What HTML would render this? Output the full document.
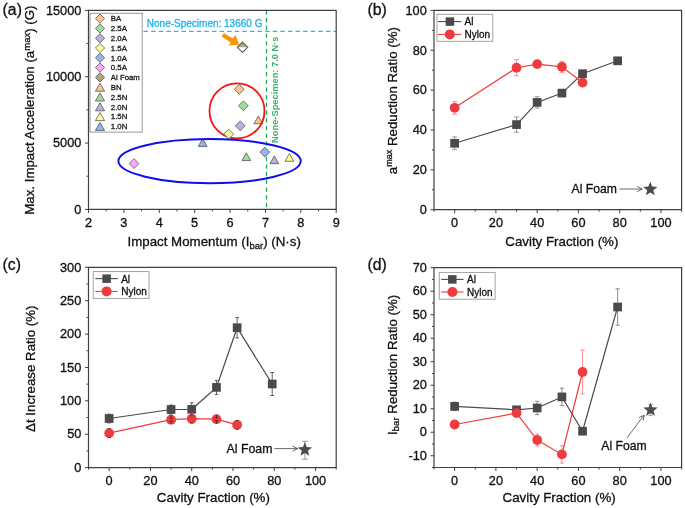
<!DOCTYPE html>
<html><head><meta charset="utf-8"><style>
html,body{margin:0;padding:0;background:#fff;}
svg{will-change:transform;display:block;font-family:"Liberation Sans",sans-serif;fill:#111;}
text{stroke:#111;stroke-width:0.3px;}

</style></head><body>
<svg width="685" height="508" viewBox="0 0 685 508">
<line x1="143.5" y1="31.4" x2="336.2" y2="31.4" stroke="#2ab7ec" stroke-width="1.3" stroke-dasharray="4.5 3.1"/>
<line x1="266.5" y1="10.4" x2="266.5" y2="209.4" stroke="#1fae4f" stroke-width="1.3" stroke-dasharray="4.3 3.4"/>
<rect x="90" y="13.3" width="52.2" height="118.8" fill="#fff" stroke="#8c8c8c" stroke-width="0.9"/>
<path d="M100 14L104.6 18.6L100 23.2L95.4 18.6Z" fill="#fdc48e" stroke="#555" stroke-width="0.8"/>
<text x="110.8" y="21.3" font-size="7.8" text-anchor="start" fill="#1a1a1a" style="stroke:#1a1a1a;stroke-width:0.3px" >BA</text>
<path d="M100 23.8L104.6 28.4L100 33L95.4 28.4Z" fill="#9fdc9d" stroke="#555" stroke-width="0.8"/>
<text x="110.8" y="31.1" font-size="7.8" text-anchor="start" fill="#1a1a1a" style="stroke:#1a1a1a;stroke-width:0.3px" >2.5A</text>
<path d="M100 33.6L104.6 38.2L100 42.8L95.4 38.2Z" fill="#bcb0dc" stroke="#555" stroke-width="0.8"/>
<text x="110.8" y="40.9" font-size="7.8" text-anchor="start" fill="#1a1a1a" style="stroke:#1a1a1a;stroke-width:0.3px" >2.0A</text>
<path d="M100 43.4L104.6 48L100 52.6L95.4 48Z" fill="#fdfd99" stroke="#555" stroke-width="0.8"/>
<text x="110.8" y="50.7" font-size="7.8" text-anchor="start" fill="#1a1a1a" style="stroke:#1a1a1a;stroke-width:0.3px" >1.5A</text>
<path d="M100 53.2L104.6 57.8L100 62.4L95.4 57.8Z" fill="#94b4f0" stroke="#555" stroke-width="0.8"/>
<text x="110.8" y="60.5" font-size="7.8" text-anchor="start" fill="#1a1a1a" style="stroke:#1a1a1a;stroke-width:0.3px" >1.0A</text>
<path d="M100 63L104.6 67.6L100 72.2L95.4 67.6Z" fill="#fca8f6" stroke="#555" stroke-width="0.8"/>
<text x="110.8" y="70.3" font-size="7.8" text-anchor="start" fill="#1a1a1a" style="stroke:#1a1a1a;stroke-width:0.3px" >0.5A</text>
<path d="M100 72.8L104.6 77.4L100 82L95.4 77.4Z" fill="#a8aa85" stroke="#555" stroke-width="0.8"/>
<text x="110.8" y="80.1" font-size="7.8" text-anchor="start" fill="#1a1a1a" style="stroke:#1a1a1a;stroke-width:0.3px" >Al Foam</text>
<path d="M100 83.18L104.6 91.23L95.4 91.23Z" fill="#fdc48e" stroke="#555" stroke-width="0.8"/>
<text x="110.8" y="89.9" font-size="7.8" text-anchor="start" fill="#1a1a1a" style="stroke:#1a1a1a;stroke-width:0.3px" >BN</text>
<path d="M100 92.97L104.6 101.03L95.4 101.03Z" fill="#9fdc9d" stroke="#555" stroke-width="0.8"/>
<text x="110.8" y="99.7" font-size="7.8" text-anchor="start" fill="#1a1a1a" style="stroke:#1a1a1a;stroke-width:0.3px" >2.5N</text>
<path d="M100 102.78L104.6 110.83L95.4 110.83Z" fill="#bcb0dc" stroke="#555" stroke-width="0.8"/>
<text x="110.8" y="109.5" font-size="7.8" text-anchor="start" fill="#1a1a1a" style="stroke:#1a1a1a;stroke-width:0.3px" >2.0N</text>
<path d="M100 112.57L104.6 120.62L95.4 120.62Z" fill="#fdfd99" stroke="#555" stroke-width="0.8"/>
<text x="110.8" y="119.3" font-size="7.8" text-anchor="start" fill="#1a1a1a" style="stroke:#1a1a1a;stroke-width:0.3px" >1.5N</text>
<path d="M100 122.38L104.6 130.43L95.4 130.43Z" fill="#94b4f0" stroke="#555" stroke-width="0.8"/>
<text x="110.8" y="129.1" font-size="7.8" text-anchor="start" fill="#1a1a1a" style="stroke:#1a1a1a;stroke-width:0.3px" >1.0N</text>
<path d="M258.3 116.05L262.7 123.75L253.9 123.75Z" fill="#fdc48e" stroke="#555" stroke-width="0.8"/>
<path d="M246.3 152.85L250.7 160.55L241.9 160.55Z" fill="#9fdc9d" stroke="#555" stroke-width="0.8"/>
<path d="M274.3 155.95L278.7 163.65L269.9 163.65Z" fill="#bcb0dc" stroke="#555" stroke-width="0.8"/>
<path d="M289.4 153.55L293.8 161.25L285 161.25Z" fill="#fdfd99" stroke="#555" stroke-width="0.8"/>
<path d="M202.6 138.75L207 146.45L198.2 146.45Z" fill="#94b4f0" stroke="#555" stroke-width="0.8"/>
<circle cx="237" cy="110.9" r="27.5" fill="none" stroke="#f51414" stroke-width="1.8"/>
<path d="M239.2 84.4L244.1 89.3L239.2 94.2L234.3 89.3Z" fill="#fdc48e" stroke="#555" stroke-width="0.8"/>
<path d="M243.4 100.9L248.3 105.8L243.4 110.7L238.5 105.8Z" fill="#9fdc9d" stroke="#555" stroke-width="0.8"/>
<path d="M240.2 120.9L245.1 125.8L240.2 130.7L235.3 125.8Z" fill="#bcb0dc" stroke="#555" stroke-width="0.8"/>
<path d="M228.7 129.2L233.6 134.1L228.7 139L223.8 134.1Z" fill="#fdfd99" stroke="#555" stroke-width="0.8"/>
<path d="M264.9 147.2L269.8 152.1L264.9 157L260 152.1Z" fill="#94b4f0" stroke="#555" stroke-width="0.8"/>
<path d="M134.1 158.7L139 163.6L134.1 168.5L129.2 163.6Z" fill="#fca8f6" stroke="#555" stroke-width="0.8"/>
<ellipse cx="209.6" cy="161.1" rx="91.2" ry="22.1" fill="none" stroke="#0c0cee" stroke-width="1.9"/>
<path d="M237.3 47.3L242.5 42.099999999999994L247.7 47.3Z" fill="#a8aa85"/>
<path d="M242.5 42.1L247.7 47.3L242.5 52.5L237.3 47.3Z" fill="none" stroke="#666" stroke-width="1.2"/>
<path d="M223.7 33.1 L232.7 38.5 L235.5 35 L239.2 44.7 L228.7 45.5 L230.7 42.5 L221.7 36.4 Z" fill="#fe9302"/>
<rect x="88.5" y="10.4" width="247.7" height="199" fill="none" stroke="#404040" stroke-width="1.2" stroke-linejoin="round"/>
<line x1="85" y1="209.4" x2="88.5" y2="209.4" stroke="#404040" stroke-width="1"/>
<text transform="translate(81.3 213.65) scale(1 1.07)" text-anchor="end" font-size="12.75">0</text>
<line x1="85" y1="143.07" x2="88.5" y2="143.07" stroke="#404040" stroke-width="1"/>
<text transform="translate(81.3 147.32) scale(1 1.07)" text-anchor="end" font-size="12.75">5000</text>
<line x1="85" y1="76.73" x2="88.5" y2="76.73" stroke="#404040" stroke-width="1"/>
<text transform="translate(81.3 80.98) scale(1 1.07)" text-anchor="end" font-size="12.75">10000</text>
<line x1="85" y1="10.4" x2="88.5" y2="10.4" stroke="#404040" stroke-width="1"/>
<text transform="translate(81.3 14.65) scale(1 1.07)" text-anchor="end" font-size="12.75">15000</text>
<line x1="86.5" y1="176.23" x2="88.5" y2="176.23" stroke="#404040" stroke-width="1"/>
<line x1="86.5" y1="109.9" x2="88.5" y2="109.9" stroke="#404040" stroke-width="1"/>
<line x1="86.5" y1="43.57" x2="88.5" y2="43.57" stroke="#404040" stroke-width="1"/>
<line x1="88.5" y1="209.4" x2="88.5" y2="212.9" stroke="#404040" stroke-width="1"/>
<text transform="translate(88.5 227) scale(1 1.07)" text-anchor="middle" font-size="12.75">2</text>
<line x1="123.89" y1="209.4" x2="123.89" y2="212.9" stroke="#404040" stroke-width="1"/>
<text transform="translate(123.89 227) scale(1 1.07)" text-anchor="middle" font-size="12.75">3</text>
<line x1="159.27" y1="209.4" x2="159.27" y2="212.9" stroke="#404040" stroke-width="1"/>
<text transform="translate(159.27 227) scale(1 1.07)" text-anchor="middle" font-size="12.75">4</text>
<line x1="194.66" y1="209.4" x2="194.66" y2="212.9" stroke="#404040" stroke-width="1"/>
<text transform="translate(194.66 227) scale(1 1.07)" text-anchor="middle" font-size="12.75">5</text>
<line x1="230.04" y1="209.4" x2="230.04" y2="212.9" stroke="#404040" stroke-width="1"/>
<text transform="translate(230.04 227) scale(1 1.07)" text-anchor="middle" font-size="12.75">6</text>
<line x1="265.43" y1="209.4" x2="265.43" y2="212.9" stroke="#404040" stroke-width="1"/>
<text transform="translate(265.43 227) scale(1 1.07)" text-anchor="middle" font-size="12.75">7</text>
<line x1="300.81" y1="209.4" x2="300.81" y2="212.9" stroke="#404040" stroke-width="1"/>
<text transform="translate(300.81 227) scale(1 1.07)" text-anchor="middle" font-size="12.75">8</text>
<line x1="336.2" y1="209.4" x2="336.2" y2="212.9" stroke="#404040" stroke-width="1"/>
<text transform="translate(336.2 227) scale(1 1.07)" text-anchor="middle" font-size="12.75">9</text>
<line x1="106.19" y1="209.4" x2="106.19" y2="211.4" stroke="#404040" stroke-width="1"/>
<line x1="141.58" y1="209.4" x2="141.58" y2="211.4" stroke="#404040" stroke-width="1"/>
<line x1="176.96" y1="209.4" x2="176.96" y2="211.4" stroke="#404040" stroke-width="1"/>
<line x1="212.35" y1="209.4" x2="212.35" y2="211.4" stroke="#404040" stroke-width="1"/>
<line x1="247.74" y1="209.4" x2="247.74" y2="211.4" stroke="#404040" stroke-width="1"/>
<line x1="283.12" y1="209.4" x2="283.12" y2="211.4" stroke="#404040" stroke-width="1"/>
<line x1="318.51" y1="209.4" x2="318.51" y2="211.4" stroke="#404040" stroke-width="1"/>
<text x="146.8" y="26.8" font-size="10" text-anchor="start" fill="#1eb4ea" style="stroke:#1eb4ea" >None-Specimen: 13660 G</text>
<text transform="translate(277.8 142.9) rotate(-90)" font-size="9.3" font-weight="bold" fill="#36b566" style="stroke:#36b566;stroke-width:0px">None-Specimen: 7.0 N·s</text>
<text x="127.5" y="246.1" font-size="13.3" text-anchor="start" fill="#111" style="stroke:#111" >Impact Momentum (I<tspan font-size="9.5" dy="2.8">bar</tspan><tspan dy="-2.8">) (N·s)</tspan></text>
<text transform="translate(34 214.8) rotate(-90)" font-size="13.3">Max. Impact Acceleration (a<tspan font-size="9.5" dy="-3.6">max</tspan><tspan dy="3.6">) (G)</tspan></text>
<text x="2.6" y="14.75" font-size="15.8" text-anchor="start" fill="#111" style="stroke:#111" >(a)</text>
<rect x="437" y="14.3" width="55.8" height="27" fill="#fff" stroke="#999" stroke-width="0.9"/>
<line x1="438" y1="21.6" x2="461.4" y2="21.6" stroke="#4a4a4a" stroke-width="1.1"/>
<rect x="445.65" y="17.35" width="8.5" height="8.5" fill="#4a4a4a"/>
<line x1="438" y1="34.4" x2="461.4" y2="34.4" stroke="#ee3b3f" stroke-width="1.1"/>
<circle cx="449.8" cy="34.4" r="5" fill="#ee3b3f"/>
<text x="464.6" y="24.9" font-size="10" text-anchor="start" fill="#111" style="stroke:#111" >Al</text>
<text x="464.6" y="38" font-size="10" text-anchor="start" fill="#111" style="stroke:#111" >Nylon</text>
<path d="M454.63 136.9V149.7M452.13 136.9H457.13M452.13 149.7H457.13" stroke="#808080" stroke-width="0.8" fill="none"/>
<path d="M516.53 117V132.2M514.03 117H519.03M514.03 132.2H519.03" stroke="#808080" stroke-width="0.8" fill="none"/>
<path d="M537.17 96.7V108.1M534.67 96.7H539.67M534.67 108.1H539.67" stroke="#808080" stroke-width="0.8" fill="none"/>
<path d="M561.93 90.1V96.1M559.43 90.1H564.43M559.43 96.1H564.43" stroke="#808080" stroke-width="0.8" fill="none"/>
<path d="M582.56 70.7V76.7M580.06 70.7H585.06M580.06 76.7H585.06" stroke="#808080" stroke-width="0.8" fill="none"/>
<path d="M617.64 58.4V63.2M615.14 58.4H620.14M615.14 63.2H620.14" stroke="#808080" stroke-width="0.8" fill="none"/>
<polyline points="454.63,143.3 516.53,124.6 537.17,102.4 561.93,93.1 582.56,73.7 617.64,60.8" fill="none" stroke="#4a4a4a" stroke-width="1.2"/>
<rect x="450.28" y="138.95" width="8.7" height="8.7" fill="#4a4a4a"/>
<rect x="512.18" y="120.25" width="8.7" height="8.7" fill="#4a4a4a"/>
<rect x="532.82" y="98.05" width="8.7" height="8.7" fill="#4a4a4a"/>
<rect x="557.58" y="88.75" width="8.7" height="8.7" fill="#4a4a4a"/>
<rect x="578.21" y="69.35" width="8.7" height="8.7" fill="#4a4a4a"/>
<rect x="613.29" y="56.45" width="8.7" height="8.7" fill="#4a4a4a"/>
<path d="M454.63 101.4V114.2M452.13 101.4H457.13M452.13 114.2H457.13" stroke="#f07a7c" stroke-width="0.8" fill="none"/>
<path d="M516.53 59.7V75.7M514.03 59.7H519.03M514.03 75.7H519.03" stroke="#f07a7c" stroke-width="0.8" fill="none"/>
<path d="M537.17 60.9V67.3M534.67 60.9H539.67M534.67 67.3H539.67" stroke="#f07a7c" stroke-width="0.8" fill="none"/>
<path d="M561.93 61.3V72.3M559.43 61.3H564.43M559.43 72.3H564.43" stroke="#f07a7c" stroke-width="0.8" fill="none"/>
<path d="M582.56 79.6V85.6M580.06 79.6H585.06M580.06 85.6H585.06" stroke="#f07a7c" stroke-width="0.8" fill="none"/>
<polyline points="454.63,107.8 516.53,67.7 537.17,64.1 561.93,66.8 582.56,82.6" fill="none" stroke="#ee3b3f" stroke-width="1.2"/>
<circle cx="454.63" cy="107.8" r="4.9" fill="#ee3b3f"/>
<circle cx="516.53" cy="67.7" r="4.9" fill="#ee3b3f"/>
<circle cx="537.17" cy="64.1" r="4.9" fill="#ee3b3f"/>
<circle cx="561.93" cy="66.8" r="4.9" fill="#ee3b3f"/>
<circle cx="582.56" cy="82.6" r="4.9" fill="#ee3b3f"/>
<polygon points="650.3,181.7 652.2,186.59 657.43,186.88 653.37,190.2 654.71,195.27 650.3,192.42 645.89,195.27 647.23,190.2 643.17,186.88 648.4,186.59" fill="#4d4d4d"/>
<line x1="619.4" y1="189" x2="642.2" y2="189" stroke="#444" stroke-width="0.8"/>
<polyline points="637.2,191.6 642.2,189 637.2,186.4" fill="none" stroke="#444" stroke-width="0.8"/>
<text x="571.6" y="192.8" font-size="12.2" text-anchor="start" fill="#111" style="stroke:#111" >Al Foam</text>
<rect x="434" y="10.4" width="247.6" height="199.3" fill="none" stroke="#404040" stroke-width="1.2" stroke-linejoin="round"/>
<line x1="430.5" y1="209.7" x2="434" y2="209.7" stroke="#404040" stroke-width="1"/>
<text transform="translate(426.8 213.95) scale(1 1.07)" text-anchor="end" font-size="12.75">0</text>
<line x1="430.5" y1="169.84" x2="434" y2="169.84" stroke="#404040" stroke-width="1"/>
<text transform="translate(426.8 174.09) scale(1 1.07)" text-anchor="end" font-size="12.75">20</text>
<line x1="430.5" y1="129.98" x2="434" y2="129.98" stroke="#404040" stroke-width="1"/>
<text transform="translate(426.8 134.23) scale(1 1.07)" text-anchor="end" font-size="12.75">40</text>
<line x1="430.5" y1="90.12" x2="434" y2="90.12" stroke="#404040" stroke-width="1"/>
<text transform="translate(426.8 94.37) scale(1 1.07)" text-anchor="end" font-size="12.75">60</text>
<line x1="430.5" y1="50.26" x2="434" y2="50.26" stroke="#404040" stroke-width="1"/>
<text transform="translate(426.8 54.51) scale(1 1.07)" text-anchor="end" font-size="12.75">80</text>
<line x1="430.5" y1="10.4" x2="434" y2="10.4" stroke="#404040" stroke-width="1"/>
<text transform="translate(426.8 14.65) scale(1 1.07)" text-anchor="end" font-size="12.75">100</text>
<line x1="432" y1="189.77" x2="434" y2="189.77" stroke="#404040" stroke-width="1"/>
<line x1="432" y1="149.91" x2="434" y2="149.91" stroke="#404040" stroke-width="1"/>
<line x1="432" y1="110.05" x2="434" y2="110.05" stroke="#404040" stroke-width="1"/>
<line x1="432" y1="70.19" x2="434" y2="70.19" stroke="#404040" stroke-width="1"/>
<line x1="432" y1="30.33" x2="434" y2="30.33" stroke="#404040" stroke-width="1"/>
<line x1="454.63" y1="209.7" x2="454.63" y2="213.2" stroke="#404040" stroke-width="1"/>
<text transform="translate(454.63 227) scale(1 1.07)" text-anchor="middle" font-size="12.75">0</text>
<line x1="495.9" y1="209.7" x2="495.9" y2="213.2" stroke="#404040" stroke-width="1"/>
<text transform="translate(495.9 227) scale(1 1.07)" text-anchor="middle" font-size="12.75">20</text>
<line x1="537.17" y1="209.7" x2="537.17" y2="213.2" stroke="#404040" stroke-width="1"/>
<text transform="translate(537.17 227) scale(1 1.07)" text-anchor="middle" font-size="12.75">40</text>
<line x1="578.43" y1="209.7" x2="578.43" y2="213.2" stroke="#404040" stroke-width="1"/>
<text transform="translate(578.43 227) scale(1 1.07)" text-anchor="middle" font-size="12.75">60</text>
<line x1="619.7" y1="209.7" x2="619.7" y2="213.2" stroke="#404040" stroke-width="1"/>
<text transform="translate(619.7 227) scale(1 1.07)" text-anchor="middle" font-size="12.75">80</text>
<line x1="660.97" y1="209.7" x2="660.97" y2="213.2" stroke="#404040" stroke-width="1"/>
<text transform="translate(660.97 227) scale(1 1.07)" text-anchor="middle" font-size="12.75">100</text>
<line x1="434" y1="209.7" x2="434" y2="211.7" stroke="#404040" stroke-width="1"/>
<line x1="475.27" y1="209.7" x2="475.27" y2="211.7" stroke="#404040" stroke-width="1"/>
<line x1="516.53" y1="209.7" x2="516.53" y2="211.7" stroke="#404040" stroke-width="1"/>
<line x1="557.8" y1="209.7" x2="557.8" y2="211.7" stroke="#404040" stroke-width="1"/>
<line x1="599.07" y1="209.7" x2="599.07" y2="211.7" stroke="#404040" stroke-width="1"/>
<line x1="640.33" y1="209.7" x2="640.33" y2="211.7" stroke="#404040" stroke-width="1"/>
<line x1="681.6" y1="209.7" x2="681.6" y2="211.7" stroke="#404040" stroke-width="1"/>
<text x="505.3" y="246.1" font-size="13.3" text-anchor="start" fill="#111" style="stroke:#111" >Cavity Fraction (%)</text>
<text transform="translate(396.9 174.2) rotate(-90)" font-size="13.3">a<tspan font-size="9" dy="-4.5">max</tspan><tspan dy="4.5"> Reduction Ratio (%)</tspan></text>
<text x="367.4" y="14.75" font-size="15.8" text-anchor="start" fill="#111" style="stroke:#111" >(b)</text>
<rect x="93.2" y="271.6" width="55.8" height="26.8" fill="#fff" stroke="#999" stroke-width="0.9"/>
<line x1="95.3" y1="278.6" x2="117.7" y2="278.6" stroke="#4a4a4a" stroke-width="1.1"/>
<rect x="102.35" y="274.45" width="8.5" height="8.5" fill="#4a4a4a"/>
<line x1="95.3" y1="291.4" x2="117.7" y2="291.4" stroke="#ee3b3f" stroke-width="1.1"/>
<circle cx="106.6" cy="291.4" r="5" fill="#ee3b3f"/>
<text x="121.2" y="282.9" font-size="10" text-anchor="start" fill="#111" style="stroke:#111" >Al</text>
<text x="121.2" y="295.2" font-size="10" text-anchor="start" fill="#111" style="stroke:#111" >Nylon</text>
<polyline points="109.14,418.5 171.07,409.5 191.71,409.3 216.48,387.4 237.12,327.7 272.21,384" fill="none" stroke="#4a4a4a" stroke-width="1.2"/>
<polyline points="109.14,433.1 171.07,419.7 191.71,418.7 216.48,419.2 237.12,424.8" fill="none" stroke="#ee3b3f" stroke-width="1.2"/>
<circle cx="109.14" cy="433.1" r="4.9" fill="#ee3b3f"/>
<circle cx="171.07" cy="419.7" r="4.9" fill="#ee3b3f"/>
<circle cx="191.71" cy="418.7" r="4.9" fill="#ee3b3f"/>
<circle cx="216.48" cy="419.2" r="4.9" fill="#ee3b3f"/>
<circle cx="237.12" cy="424.8" r="4.9" fill="#ee3b3f"/>
<path d="M109.14 414.1V422.9M107.34 414.1H110.94M107.34 422.9H110.94" stroke="#505050" stroke-width="0.9" fill="none"/>
<path d="M171.07 405V414M169.27 405H172.87M169.27 414H172.87" stroke="#505050" stroke-width="0.9" fill="none"/>
<path d="M191.71 402.8V415.8M189.91 402.8H193.51M189.91 415.8H193.51" stroke="#505050" stroke-width="0.9" fill="none"/>
<path d="M216.48 380.4V394.4M214.68 380.4H218.28M214.68 394.4H218.28" stroke="#505050" stroke-width="0.9" fill="none"/>
<path d="M237.12 317.5V337.9M235.32 317.5H238.92M235.32 337.9H238.92" stroke="#505050" stroke-width="0.9" fill="none"/>
<path d="M272.21 372.5V395.5M270.41 372.5H274.01M270.41 395.5H274.01" stroke="#505050" stroke-width="0.9" fill="none"/>
<rect x="104.79" y="414.15" width="8.7" height="8.7" fill="#4a4a4a"/>
<rect x="166.72" y="405.15" width="8.7" height="8.7" fill="#4a4a4a"/>
<rect x="187.36" y="404.95" width="8.7" height="8.7" fill="#4a4a4a"/>
<rect x="212.13" y="383.05" width="8.7" height="8.7" fill="#4a4a4a"/>
<rect x="232.77" y="323.35" width="8.7" height="8.7" fill="#4a4a4a"/>
<rect x="267.86" y="379.65" width="8.7" height="8.7" fill="#4a4a4a"/>
<path d="M171.07 415.1V418.3M169.47 418.3H172.67M171.07 424.3V421.1M169.47 421.1H172.67" stroke="#3a2020" stroke-width="0.8" fill="none"/>
<path d="M216.48 414.6V417.8M214.88 417.8H218.08M216.48 423.8V420.6M214.88 420.6H218.08" stroke="#3a2020" stroke-width="0.8" fill="none"/>
<path d="M107.34 428.7H110.94M107.34 437.5H110.94" stroke="#5a2a2a" stroke-width="0.8" fill="none"/>
<path d="M235.32 420.4H238.92M235.32 429.2H238.92" stroke="#5a2a2a" stroke-width="0.8" fill="none"/>
<path d="M189.91 423.2H193.51" stroke="#5a2a2a" stroke-width="0.8" fill="none"/>
<path d="M304.9 441.3V459.2M301.9 441.3H307.9M301.9 459.2H307.9" stroke="#808080" stroke-width="0.8" fill="none"/>
<polygon points="304.9,442.2 306.8,447.09 312.03,447.38 307.97,450.7 309.31,455.77 304.9,452.93 300.49,455.77 301.83,450.7 297.77,447.38 303,447.09" fill="#4d4d4d"/>
<line x1="274.4" y1="448.6" x2="297.6" y2="448.6" stroke="#444" stroke-width="0.8"/>
<polyline points="292.6,451.2 297.6,448.6 292.6,446" fill="none" stroke="#444" stroke-width="0.8"/>
<text x="226.6" y="453.2" font-size="12.3" text-anchor="start" fill="#111" style="stroke:#111" >Al Foam</text>
<rect x="88.5" y="267.3" width="247.7" height="200.3" fill="none" stroke="#404040" stroke-width="1.2" stroke-linejoin="round"/>
<line x1="85" y1="467.6" x2="88.5" y2="467.6" stroke="#404040" stroke-width="1"/>
<text transform="translate(81.3 471.85) scale(1 1.07)" text-anchor="end" font-size="12.75">0</text>
<line x1="85" y1="434.22" x2="88.5" y2="434.22" stroke="#404040" stroke-width="1"/>
<text transform="translate(81.3 438.47) scale(1 1.07)" text-anchor="end" font-size="12.75">50</text>
<line x1="85" y1="400.83" x2="88.5" y2="400.83" stroke="#404040" stroke-width="1"/>
<text transform="translate(81.3 405.08) scale(1 1.07)" text-anchor="end" font-size="12.75">100</text>
<line x1="85" y1="367.45" x2="88.5" y2="367.45" stroke="#404040" stroke-width="1"/>
<text transform="translate(81.3 371.7) scale(1 1.07)" text-anchor="end" font-size="12.75">150</text>
<line x1="85" y1="334.07" x2="88.5" y2="334.07" stroke="#404040" stroke-width="1"/>
<text transform="translate(81.3 338.32) scale(1 1.07)" text-anchor="end" font-size="12.75">200</text>
<line x1="85" y1="300.68" x2="88.5" y2="300.68" stroke="#404040" stroke-width="1"/>
<text transform="translate(81.3 304.93) scale(1 1.07)" text-anchor="end" font-size="12.75">250</text>
<line x1="85" y1="267.3" x2="88.5" y2="267.3" stroke="#404040" stroke-width="1"/>
<text transform="translate(81.3 271.55) scale(1 1.07)" text-anchor="end" font-size="12.75">300</text>
<line x1="86.5" y1="450.91" x2="88.5" y2="450.91" stroke="#404040" stroke-width="1"/>
<line x1="86.5" y1="417.53" x2="88.5" y2="417.53" stroke="#404040" stroke-width="1"/>
<line x1="86.5" y1="384.14" x2="88.5" y2="384.14" stroke="#404040" stroke-width="1"/>
<line x1="86.5" y1="350.76" x2="88.5" y2="350.76" stroke="#404040" stroke-width="1"/>
<line x1="86.5" y1="317.38" x2="88.5" y2="317.38" stroke="#404040" stroke-width="1"/>
<line x1="86.5" y1="283.99" x2="88.5" y2="283.99" stroke="#404040" stroke-width="1"/>
<line x1="109.14" y1="467.6" x2="109.14" y2="471.1" stroke="#404040" stroke-width="1"/>
<text transform="translate(109.14 484.5) scale(1 1.07)" text-anchor="middle" font-size="12.75">0</text>
<line x1="150.43" y1="467.6" x2="150.43" y2="471.1" stroke="#404040" stroke-width="1"/>
<text transform="translate(150.43 484.5) scale(1 1.07)" text-anchor="middle" font-size="12.75">20</text>
<line x1="191.71" y1="467.6" x2="191.71" y2="471.1" stroke="#404040" stroke-width="1"/>
<text transform="translate(191.71 484.5) scale(1 1.07)" text-anchor="middle" font-size="12.75">40</text>
<line x1="232.99" y1="467.6" x2="232.99" y2="471.1" stroke="#404040" stroke-width="1"/>
<text transform="translate(232.99 484.5) scale(1 1.07)" text-anchor="middle" font-size="12.75">60</text>
<line x1="274.27" y1="467.6" x2="274.27" y2="471.1" stroke="#404040" stroke-width="1"/>
<text transform="translate(274.27 484.5) scale(1 1.07)" text-anchor="middle" font-size="12.75">80</text>
<line x1="315.56" y1="467.6" x2="315.56" y2="471.1" stroke="#404040" stroke-width="1"/>
<text transform="translate(315.56 484.5) scale(1 1.07)" text-anchor="middle" font-size="12.75">100</text>
<line x1="88.5" y1="467.6" x2="88.5" y2="469.6" stroke="#404040" stroke-width="1"/>
<line x1="129.78" y1="467.6" x2="129.78" y2="469.6" stroke="#404040" stroke-width="1"/>
<line x1="171.07" y1="467.6" x2="171.07" y2="469.6" stroke="#404040" stroke-width="1"/>
<line x1="212.35" y1="467.6" x2="212.35" y2="469.6" stroke="#404040" stroke-width="1"/>
<line x1="253.63" y1="467.6" x2="253.63" y2="469.6" stroke="#404040" stroke-width="1"/>
<line x1="294.92" y1="467.6" x2="294.92" y2="469.6" stroke="#404040" stroke-width="1"/>
<line x1="336.2" y1="467.6" x2="336.2" y2="469.6" stroke="#404040" stroke-width="1"/>
<text x="156.8" y="501.6" font-size="13.3" text-anchor="start" fill="#111" style="stroke:#111" >Cavity Fraction (%)</text>
<text transform="translate(35.1 431.9) rotate(-90)" font-size="13.3">Δt Increase Ratio (%)</text>
<text x="2.6" y="269.8" font-size="15.8" text-anchor="start" fill="#111" style="stroke:#111" >(c)</text>
<rect x="439.3" y="272.4" width="55.8" height="26.8" fill="#fff" stroke="#999" stroke-width="0.9"/>
<line x1="441.2" y1="279.4" x2="463.6" y2="279.4" stroke="#4a4a4a" stroke-width="1.1"/>
<rect x="448.05" y="275.15" width="8.5" height="8.5" fill="#4a4a4a"/>
<line x1="441.2" y1="292" x2="463.6" y2="292" stroke="#ee3b3f" stroke-width="1.1"/>
<circle cx="452.4" cy="292" r="5" fill="#ee3b3f"/>
<text x="467" y="283" font-size="10" text-anchor="start" fill="#111" style="stroke:#111" >Al</text>
<text x="467" y="295.6" font-size="10" text-anchor="start" fill="#111" style="stroke:#111" >Nylon</text>
<path d="M454.63 402.2V410.6M452.53 402.2H456.73M452.53 410.6H456.73" stroke="#707070" stroke-width="0.8" fill="none"/>
<path d="M516.53 407.8V411.8M514.43 407.8H518.63M514.43 411.8H518.63" stroke="#707070" stroke-width="0.8" fill="none"/>
<path d="M537.17 401.3V414.7M535.07 401.3H539.27M535.07 414.7H539.27" stroke="#707070" stroke-width="0.8" fill="none"/>
<path d="M561.93 388.2V405.6M559.83 388.2H564.03M559.83 405.6H564.03" stroke="#707070" stroke-width="0.8" fill="none"/>
<path d="M582.56 429.2V433.2M580.46 429.2H584.66M580.46 433.2H584.66" stroke="#707070" stroke-width="0.8" fill="none"/>
<path d="M617.64 288.8V325.2M615.54 288.8H619.74M615.54 325.2H619.74" stroke="#707070" stroke-width="0.8" fill="none"/>
<polyline points="454.63,406.4 516.53,409.8 537.17,408 561.93,396.9 582.56,431.2 617.64,307" fill="none" stroke="#4a4a4a" stroke-width="1.2"/>
<rect x="450.28" y="402.05" width="8.7" height="8.7" fill="#4a4a4a"/>
<rect x="512.18" y="405.45" width="8.7" height="8.7" fill="#4a4a4a"/>
<rect x="532.82" y="403.65" width="8.7" height="8.7" fill="#4a4a4a"/>
<rect x="557.58" y="392.55" width="8.7" height="8.7" fill="#4a4a4a"/>
<rect x="578.21" y="426.85" width="8.7" height="8.7" fill="#4a4a4a"/>
<rect x="613.29" y="302.65" width="8.7" height="8.7" fill="#4a4a4a"/>
<path d="M454.63 422.5V426.5M452.53 422.5H456.73M452.53 426.5H456.73" stroke="#f07a7c" stroke-width="0.8" fill="none"/>
<path d="M516.53 411.1V415.1M514.43 411.1H518.63M514.43 415.1H518.63" stroke="#f07a7c" stroke-width="0.8" fill="none"/>
<path d="M537.17 433.9V446.1M535.07 433.9H539.27M535.07 446.1H539.27" stroke="#f07a7c" stroke-width="0.8" fill="none"/>
<path d="M561.93 445.7V463.1M559.83 445.7H564.03M559.83 463.1H564.03" stroke="#f07a7c" stroke-width="0.8" fill="none"/>
<path d="M582.56 350V394M580.46 350H584.66M580.46 394H584.66" stroke="#f07a7c" stroke-width="0.8" fill="none"/>
<polyline points="454.63,424.5 516.53,413.1 537.17,440 561.93,454.4 582.56,372" fill="none" stroke="#ee3b3f" stroke-width="1.2"/>
<circle cx="454.63" cy="424.5" r="4.9" fill="#ee3b3f"/>
<circle cx="516.53" cy="413.1" r="4.9" fill="#ee3b3f"/>
<circle cx="537.17" cy="440" r="4.9" fill="#ee3b3f"/>
<circle cx="561.93" cy="454.4" r="4.9" fill="#ee3b3f"/>
<circle cx="582.56" cy="372" r="4.9" fill="#ee3b3f"/>
<path d="M650.5 404.5V415.6M648.5 404.5H652.5M648.5 415.6H652.5" stroke="#888" stroke-width="0.8" fill="none"/>
<polygon points="650.5,402.4 652.4,407.29 657.63,407.58 653.57,410.9 654.91,415.97 650.5,413.12 646.09,415.97 647.43,410.9 643.37,407.58 648.6,407.29" fill="#4d4d4d"/>
<line x1="626.9" y1="437.9" x2="644.1" y2="415.2" stroke="#444" stroke-width="0.8"/>
<polyline points="643.15,420.76 644.1,415.2 639.01,417.61" fill="none" stroke="#444" stroke-width="0.8"/>
<text x="601.3" y="450.3" font-size="12.2" text-anchor="start" fill="#111" style="stroke:#111" >Al Foam</text>
<rect x="434" y="267.7" width="247.6" height="199.8" fill="none" stroke="#404040" stroke-width="1.2" stroke-linejoin="round"/>
<line x1="430.5" y1="455.75" x2="434" y2="455.75" stroke="#404040" stroke-width="1"/>
<text transform="translate(426.8 460) scale(1 1.07)" text-anchor="end" font-size="12.75">-10</text>
<line x1="430.5" y1="432.24" x2="434" y2="432.24" stroke="#404040" stroke-width="1"/>
<text transform="translate(426.8 436.49) scale(1 1.07)" text-anchor="end" font-size="12.75">0</text>
<line x1="430.5" y1="408.74" x2="434" y2="408.74" stroke="#404040" stroke-width="1"/>
<text transform="translate(426.8 412.99) scale(1 1.07)" text-anchor="end" font-size="12.75">10</text>
<line x1="430.5" y1="385.23" x2="434" y2="385.23" stroke="#404040" stroke-width="1"/>
<text transform="translate(426.8 389.48) scale(1 1.07)" text-anchor="end" font-size="12.75">20</text>
<line x1="430.5" y1="361.72" x2="434" y2="361.72" stroke="#404040" stroke-width="1"/>
<text transform="translate(426.8 365.97) scale(1 1.07)" text-anchor="end" font-size="12.75">30</text>
<line x1="430.5" y1="338.22" x2="434" y2="338.22" stroke="#404040" stroke-width="1"/>
<text transform="translate(426.8 342.47) scale(1 1.07)" text-anchor="end" font-size="12.75">40</text>
<line x1="430.5" y1="314.71" x2="434" y2="314.71" stroke="#404040" stroke-width="1"/>
<text transform="translate(426.8 318.96) scale(1 1.07)" text-anchor="end" font-size="12.75">50</text>
<line x1="430.5" y1="291.21" x2="434" y2="291.21" stroke="#404040" stroke-width="1"/>
<text transform="translate(426.8 295.46) scale(1 1.07)" text-anchor="end" font-size="12.75">60</text>
<line x1="430.5" y1="267.7" x2="434" y2="267.7" stroke="#404040" stroke-width="1"/>
<text transform="translate(426.8 271.95) scale(1 1.07)" text-anchor="end" font-size="12.75">70</text>
<line x1="432" y1="467.5" x2="434" y2="467.5" stroke="#404040" stroke-width="1"/>
<line x1="432" y1="443.99" x2="434" y2="443.99" stroke="#404040" stroke-width="1"/>
<line x1="432" y1="420.49" x2="434" y2="420.49" stroke="#404040" stroke-width="1"/>
<line x1="432" y1="396.98" x2="434" y2="396.98" stroke="#404040" stroke-width="1"/>
<line x1="432" y1="373.48" x2="434" y2="373.48" stroke="#404040" stroke-width="1"/>
<line x1="432" y1="349.97" x2="434" y2="349.97" stroke="#404040" stroke-width="1"/>
<line x1="432" y1="326.46" x2="434" y2="326.46" stroke="#404040" stroke-width="1"/>
<line x1="432" y1="302.96" x2="434" y2="302.96" stroke="#404040" stroke-width="1"/>
<line x1="432" y1="279.45" x2="434" y2="279.45" stroke="#404040" stroke-width="1"/>
<line x1="454.63" y1="467.5" x2="454.63" y2="471" stroke="#404040" stroke-width="1"/>
<text transform="translate(454.63 484.5) scale(1 1.07)" text-anchor="middle" font-size="12.75">0</text>
<line x1="495.9" y1="467.5" x2="495.9" y2="471" stroke="#404040" stroke-width="1"/>
<text transform="translate(495.9 484.5) scale(1 1.07)" text-anchor="middle" font-size="12.75">20</text>
<line x1="537.17" y1="467.5" x2="537.17" y2="471" stroke="#404040" stroke-width="1"/>
<text transform="translate(537.17 484.5) scale(1 1.07)" text-anchor="middle" font-size="12.75">40</text>
<line x1="578.43" y1="467.5" x2="578.43" y2="471" stroke="#404040" stroke-width="1"/>
<text transform="translate(578.43 484.5) scale(1 1.07)" text-anchor="middle" font-size="12.75">60</text>
<line x1="619.7" y1="467.5" x2="619.7" y2="471" stroke="#404040" stroke-width="1"/>
<text transform="translate(619.7 484.5) scale(1 1.07)" text-anchor="middle" font-size="12.75">80</text>
<line x1="660.97" y1="467.5" x2="660.97" y2="471" stroke="#404040" stroke-width="1"/>
<text transform="translate(660.97 484.5) scale(1 1.07)" text-anchor="middle" font-size="12.75">100</text>
<line x1="434" y1="467.5" x2="434" y2="469.5" stroke="#404040" stroke-width="1"/>
<line x1="475.27" y1="467.5" x2="475.27" y2="469.5" stroke="#404040" stroke-width="1"/>
<line x1="516.53" y1="467.5" x2="516.53" y2="469.5" stroke="#404040" stroke-width="1"/>
<line x1="557.8" y1="467.5" x2="557.8" y2="469.5" stroke="#404040" stroke-width="1"/>
<line x1="599.07" y1="467.5" x2="599.07" y2="469.5" stroke="#404040" stroke-width="1"/>
<line x1="640.33" y1="467.5" x2="640.33" y2="469.5" stroke="#404040" stroke-width="1"/>
<line x1="681.6" y1="467.5" x2="681.6" y2="469.5" stroke="#404040" stroke-width="1"/>
<text x="502.6" y="501.6" font-size="13.3" text-anchor="start" fill="#111" style="stroke:#111" >Cavity Fraction (%)</text>
<text transform="translate(396.8 435.1) rotate(-90)" font-size="13.3">I<tspan font-size="9.7" dy="2.1">bar</tspan><tspan dy="-2.1"> Reduction Ratio (%)</tspan></text>
<text x="367.4" y="269.8" font-size="15.8" text-anchor="start" fill="#111" style="stroke:#111" >(d)</text>
</svg>
</body></html>
